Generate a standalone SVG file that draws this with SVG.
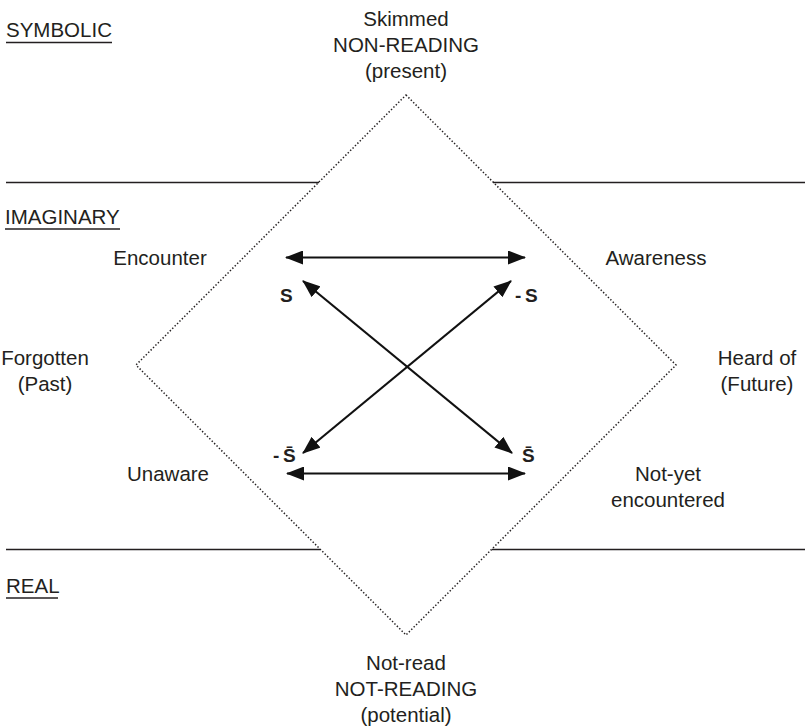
<svg xmlns="http://www.w3.org/2000/svg" width="807" height="728" viewBox="0 0 807 728">
  <style>
    text { font-family: "Liberation Sans", Arial, sans-serif; font-size: 20.5px; fill: #231f20; }
    .c { text-anchor: middle; }
    .sym { font-weight: bold; font-size: 19px; }
    .rule { stroke: #231f20; stroke-width: 1.3; fill: none; }
    .ul { stroke: #231f20; stroke-width: 1.3; }
    .diamond { stroke: #231f20; stroke-width: 1.5; fill: none; stroke-dasharray: 1.4 2; }
    .arrow { stroke: #111; stroke-width: 2.2; fill: none; marker-start: url(#head); marker-end: url(#head); }
  </style>
  <defs>
    <marker id="head" viewBox="0 0 18 14" refX="17" refY="7" markerWidth="18" markerHeight="14" markerUnits="userSpaceOnUse" orient="auto-start-reverse">
      <path d="M0,0 L18,7 L0,14 Z" fill="#111"/>
    </marker>
  </defs>

  <!-- register bands -->
  <g id="bands">
    <line class="rule" x1="6" y1="182.5" x2="319" y2="182.5"/>
    <line class="rule" x1="493" y1="182.5" x2="805" y2="182.5"/>
    <line class="rule" x1="6" y1="549.5" x2="320" y2="549.5"/>
    <line class="rule" x1="492" y1="549.5" x2="805" y2="549.5"/>
  </g>

  <g id="band-labels">
    <text x="6" y="37">SYMBOLIC</text>
    <line class="ul" x1="6" y1="42.5" x2="112" y2="42.5"/>
    <text x="5" y="224">IMAGINARY</text>
    <line class="ul" x1="5" y1="229" x2="120" y2="229"/>
    <text x="6" y="593">REAL</text>
    <line class="ul" x1="6" y1="598" x2="58" y2="598"/>
  </g>

  <!-- dotted square -->
  <g id="square">
    <polygon class="diamond" points="406,95 676,365 406,635 136,365"/>
  </g>

  <g id="node-top">
    <text class="c" x="406" y="26">Skimmed</text>
    <text class="c" x="406" y="52">NON-READING</text>
    <text class="c" x="406" y="78">(present)</text>
  </g>
  <g id="node-bottom">
    <text class="c" x="406" y="670">Not-read</text>
    <text class="c" x="406" y="696">NOT-READING</text>
    <text class="c" x="406" y="722">(potential)</text>
  </g>
  <g id="node-left">
    <text class="c" x="45" y="365">Forgotten</text>
    <text class="c" x="45" y="391">(Past)</text>
  </g>
  <g id="node-right">
    <text class="c" x="757" y="365">Heard of</text>
    <text class="c" x="757" y="391">(Future)</text>
  </g>
  <g id="node-encounter">
    <text class="c" x="160" y="265">Encounter</text>
  </g>
  <g id="node-awareness">
    <text class="c" x="656" y="265">Awareness</text>
  </g>
  <g id="node-unaware">
    <text class="c" x="168" y="481">Unaware</text>
  </g>
  <g id="node-notyet">
    <text class="c" x="668" y="481">Not-yet</text>
    <text class="c" x="668" y="507">encountered</text>
  </g>

  <g id="node-s">
    <text class="sym" x="280" y="302">S</text>
  </g>
  <g id="node-not-s">
    <text class="sym" x="515" y="302">-<tspan x="525">S</tspan></text>
  </g>
  <g id="node-not-sbar">
    <text class="sym" x="273" y="462">-<tspan x="283">S̄</tspan></text>
  </g>
  <g id="node-sbar">
    <text class="sym" x="522" y="462">S̄</text>
  </g>

  <g id="connectors">
    <line class="arrow" x1="286" y1="257.5" x2="525" y2="257.5"/>
    <line class="arrow" x1="287" y1="473.5" x2="525" y2="473.5"/>
    <line class="arrow" x1="303" y1="281" x2="512" y2="453"/>
    <line class="arrow" x1="511" y1="281" x2="303" y2="453"/>
  </g>
</svg>
